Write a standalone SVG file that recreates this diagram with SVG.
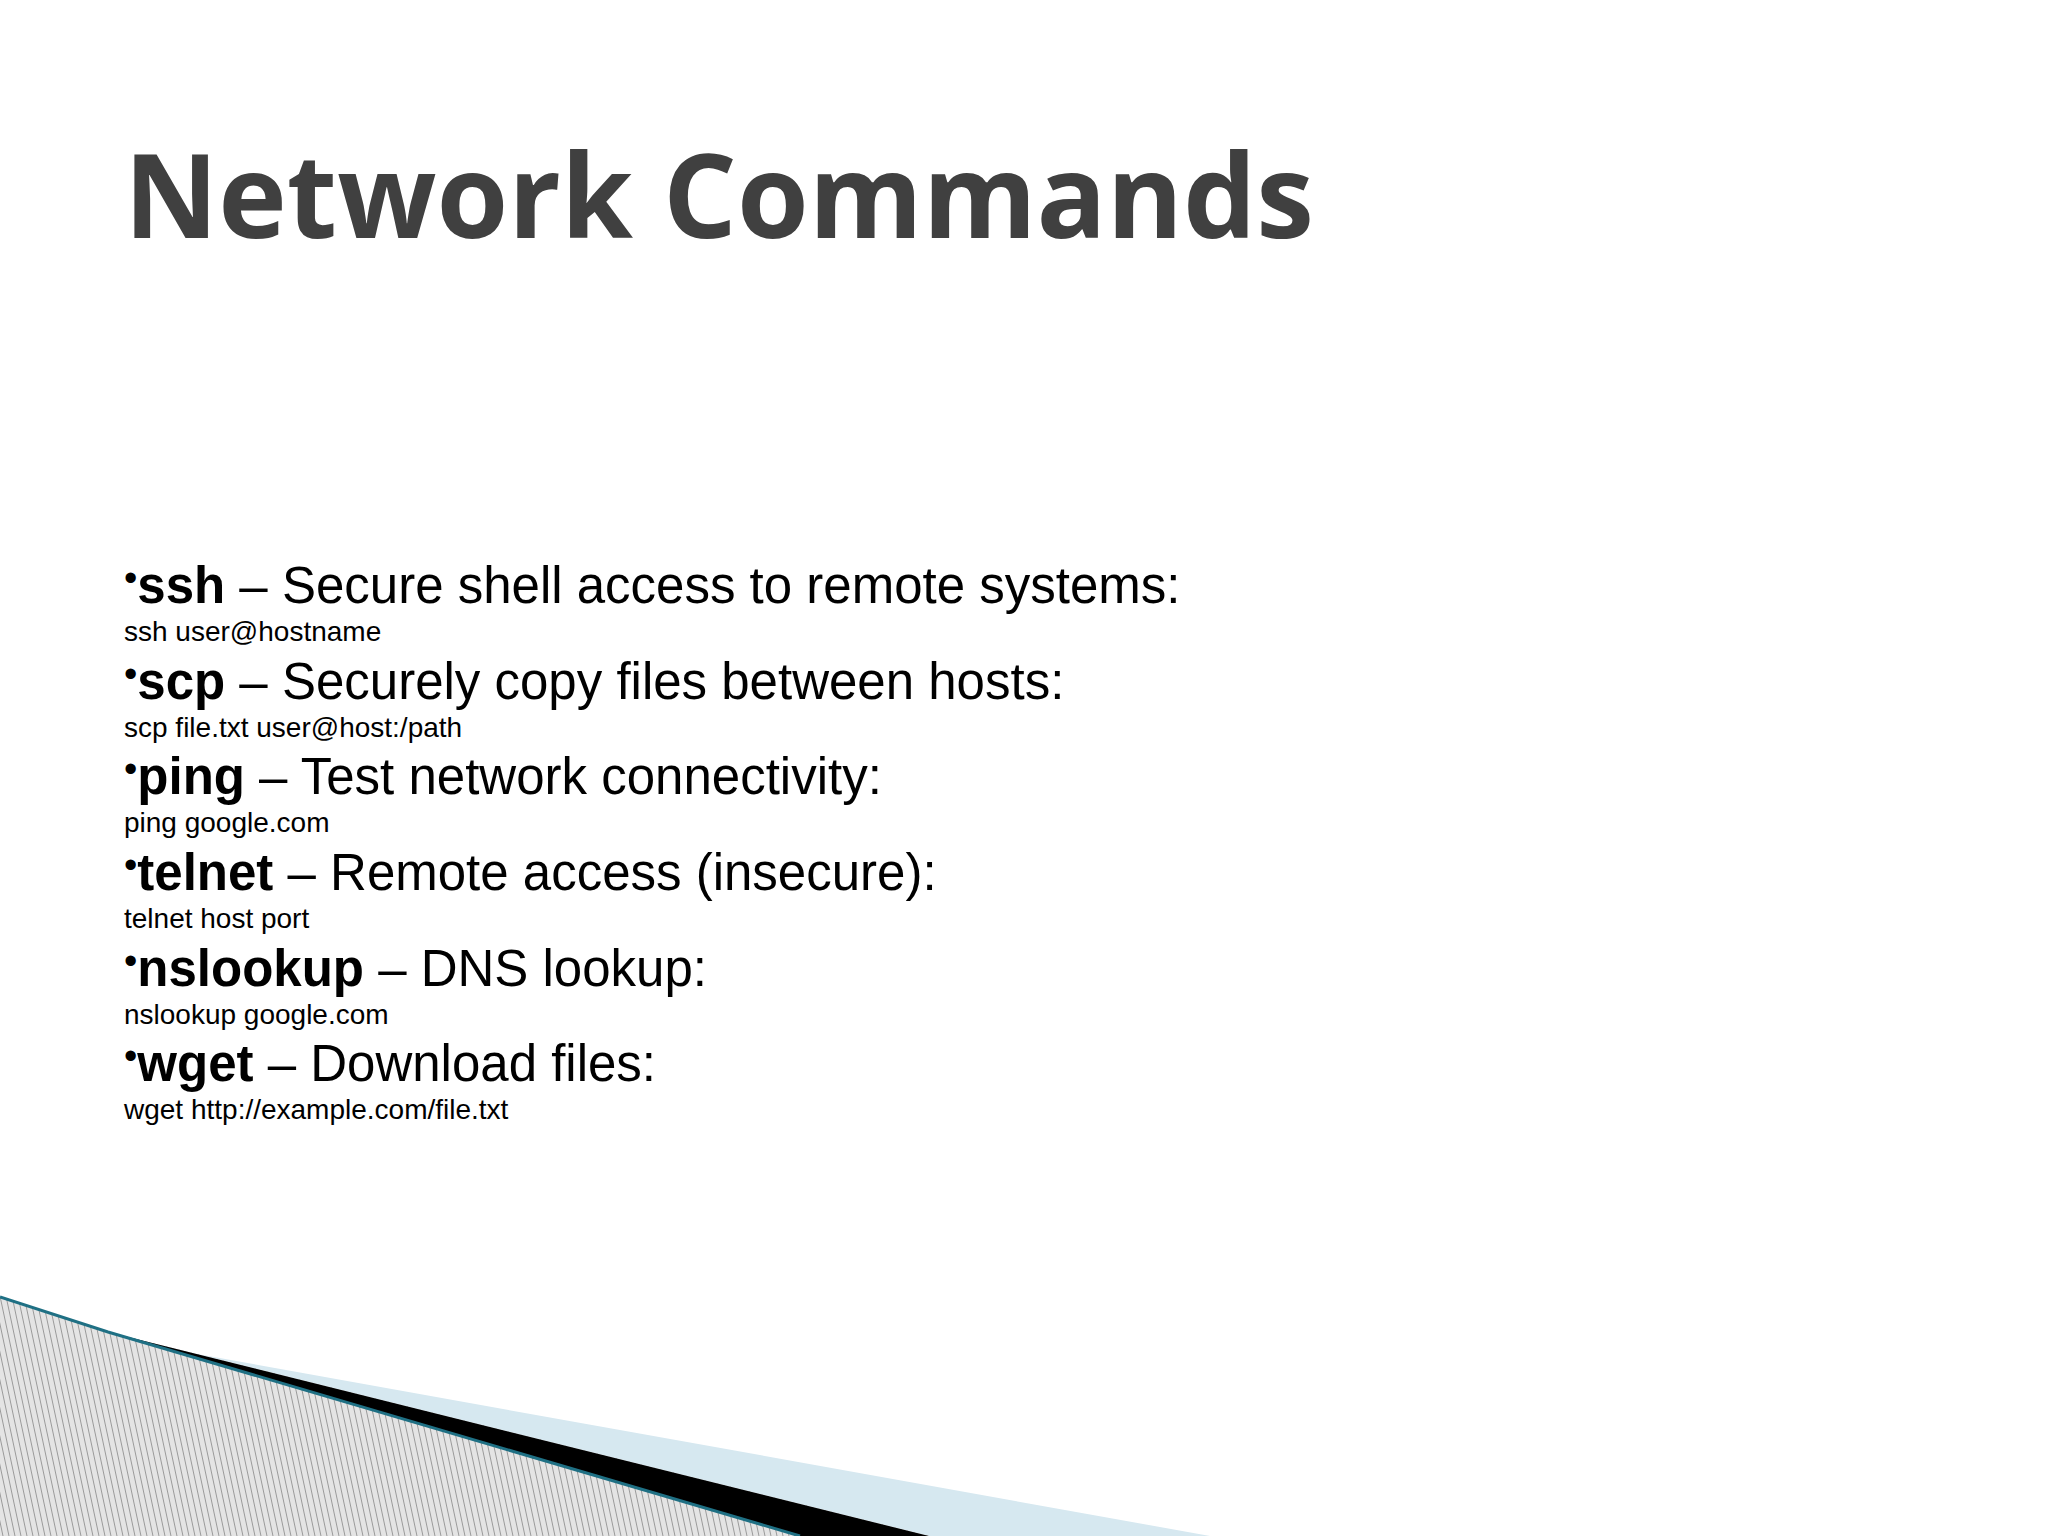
<svg xmlns="http://www.w3.org/2000/svg" width="2048" height="1536" viewBox="0 0 2048 1536">
<style>
.t{font-family:"Open Sans","Liberation Sans",sans-serif;font-weight:bold;font-size:116px;fill:#404040}
.b{font-family:"Liberation Sans",Arial,sans-serif;font-size:51px;fill:#000}
.c{font-family:"Liberation Sans",Arial,sans-serif;font-size:28px;fill:#000}
.k{font-weight:bold}
</style>
<defs>
<pattern id="h" width="6" height="40" patternUnits="userSpaceOnUse" patternTransform="skewX(12)">
<rect width="6" height="40" fill="#e4e4e4"/>
<line x1="0.5" y1="0" x2="0.5" y2="40" stroke="#9a9a9a" stroke-width="1"/>
</pattern>
</defs>
<rect width="2048" height="1536" fill="#fff"/>
<g id="decor">
<polygon points="108,1332 158,1347 1210,1536 929,1536" fill="#d6e8f0"/>
<polygon points="0,1297 108,1332 929,1536 0,1536" fill="url(#h)"/>
<polygon points="108,1332 929,1536 800,1536" fill="#000"/>
<polyline points="0,1297 108,1332 800,1536" fill="none" stroke="#1f7084" stroke-width="3"/>
</g>
<text id="title" class="t" x="124" y="238">Network Commands</text>
<g id="list">
<text class="b" x="124" y="603"><tspan font-size="38" dy="-12">•</tspan><tspan class="k" dy="12">ssh</tspan> – Secure shell access to remote systems:</text>
<text class="c" x="124" y="641">ssh user@hostname</text>
<text class="b" x="124" y="699"><tspan font-size="38" dy="-12">•</tspan><tspan class="k" dy="12">scp</tspan> – Securely copy files between hosts:</text>
<text class="c" x="124" y="737">scp file.txt user@host:/path</text>
<text class="b" x="124" y="794"><tspan font-size="38" dy="-12">•</tspan><tspan class="k" dy="12">ping</tspan> – Test network connectivity:</text>
<text class="c" x="124" y="832">ping google.com</text>
<text class="b" x="124" y="890"><tspan font-size="38" dy="-12">•</tspan><tspan class="k" dy="12">telnet</tspan> – Remote access (insecure):</text>
<text class="c" x="124" y="928">telnet host port</text>
<text class="b" x="124" y="986"><tspan font-size="38" dy="-12">•</tspan><tspan class="k" dy="12">nslookup</tspan> – DNS lookup:</text>
<text class="c" x="124" y="1024">nslookup google.com</text>
<text class="b" x="124" y="1081"><tspan font-size="38" dy="-12">•</tspan><tspan class="k" dy="12">wget</tspan> – Download files:</text>
<text class="c" x="124" y="1119">wget http://example.com/file.txt</text>
</g>
</svg>
